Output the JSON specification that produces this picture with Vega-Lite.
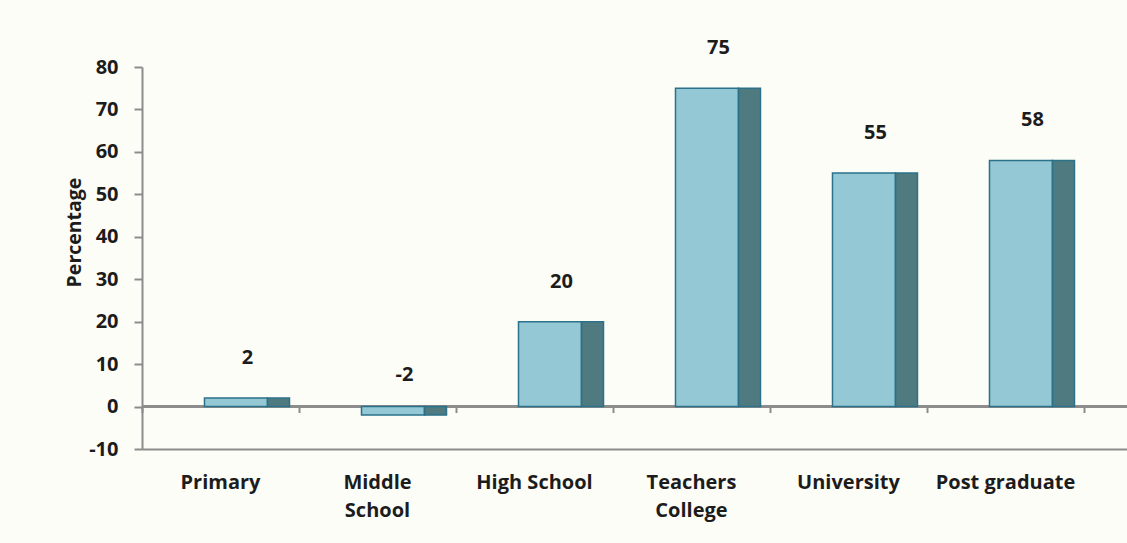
{
  "$schema": "https://vega.github.io/schema/vega-lite/v6.json",
  "autosize": {"type": "none"},
  "padding": {"left": 142, "top": 67, "right": 0, "bottom": 94},
  "width": 985,
  "height": 382,
  "background": "#fdfdf7",
  "config": {
    "view": {"stroke": null},
    "font": "Open Sans",
    "axis": {
      "labelFont": "Open Sans",
      "labelFontWeight": "bold",
      "labelFontSize": 20,
      "labelColor": "#1c1c1c",
      "titleFont": "Open Sans",
      "titleFontWeight": "bold",
      "titleFontSize": 19.5,
      "titleColor": "#1c1c1c",
      "domainColor": "#8c8c8c",
      "domainWidth": 2,
      "tickColor": "#8c8c8c",
      "tickWidth": 2,
      "grid": false
    }
  },
  "data": {
    "values": [
      {"level": "Primary", "pct": 2},
      {"level": "Middle School", "pct": -2},
      {"level": "High School", "pct": 20},
      {"level": "Teachers College", "pct": 75},
      {"level": "University", "pct": 55},
      {"level": "Post graduate", "pct": 58}
    ]
  },
  "resolve": {"scale": {"x": "independent"}, "axis": {"x": "independent"}},
  "layer": [
    {
      "mark": {"type": "rule", "color": "#8c8c8c", "strokeWidth": 2},
      "encoding": {"y": {"datum": 0, "type": "quantitative", "scale": {"domain": [-10, 80], "nice": false, "zero": false}}}
    },
    {
      "mark": {"type": "bar", "width": 63, "xOffset": 15.5, "fill": "#93c8d4", "stroke": "#2b7189", "strokeWidth": 1.5},
      "encoding": {
        "x": {
          "field": "level", "type": "nominal", "sort": null,
          "scale": {"type": "band", "paddingInner": 0, "paddingOuter": 0.137, "align": 0},
          "axis": {
            "orient": "bottom", "title": null, "ticks": false, "labelAngle": 0,
            "labelPadding": 33, "labelBaseline": "middle", "labelLineHeight": 28,
            "labelExpr": "indexof(['Middle School', 'Teachers College'], datum.value) >= 0 ? split(datum.value, ' ') : datum.value"
          }
        },
        "y": {
          "field": "pct", "type": "quantitative",
          "scale": {"domain": [-10, 80], "nice": false, "zero": false},
          "axis": {
            "title": "Percentage", "values": [-10, 0, 10, 20, 30, 40, 50, 60, 70, 80],
            "labelExpr": "replace(datum.label, '\u2212', '-')",
            "tickSize": 8, "labelPadding": 16,
            "titleX": -62, "titleY": 165, "titleAngle": -90, "titleAlign": "center", "titleBaseline": "alphabetic"
          }
        }
      }
    },
    {
      "mark": {"type": "bar", "width": 22, "xOffset": 58, "fill": "#4e7a80", "stroke": "#2b7189", "strokeWidth": 1.5},
      "encoding": {
        "x": {
          "field": "level", "type": "nominal", "sort": null,
          "scale": {"type": "band", "paddingInner": 0, "paddingOuter": 0.137, "align": 0},
          "axis": {
            "orient": "bottom", "title": null, "labels": false, "domain": false,
            "ticks": true, "tickBand": "extent", "tickSize": 6, "offset": -42.44
          }
        },
        "y": {"field": "pct", "type": "quantitative"}
      }
    },
    {
      "mark": {"type": "text", "dx": 27, "dy": -40, "font": "Open Sans", "fontWeight": "bold", "fontSize": 20, "color": "#1c1c1c", "baseline": "middle", "align": "center"},
      "encoding": {
        "x": {
          "field": "level", "type": "nominal", "sort": null, "bandPosition": 0.5,
          "scale": {"type": "band", "paddingInner": 0, "paddingOuter": 0.137, "align": 0},
          "axis": null
        },
        "y": {"field": "pct", "type": "quantitative"},
        "text": {"field": "pct", "type": "nominal"}
      }
    }
  ]
}
